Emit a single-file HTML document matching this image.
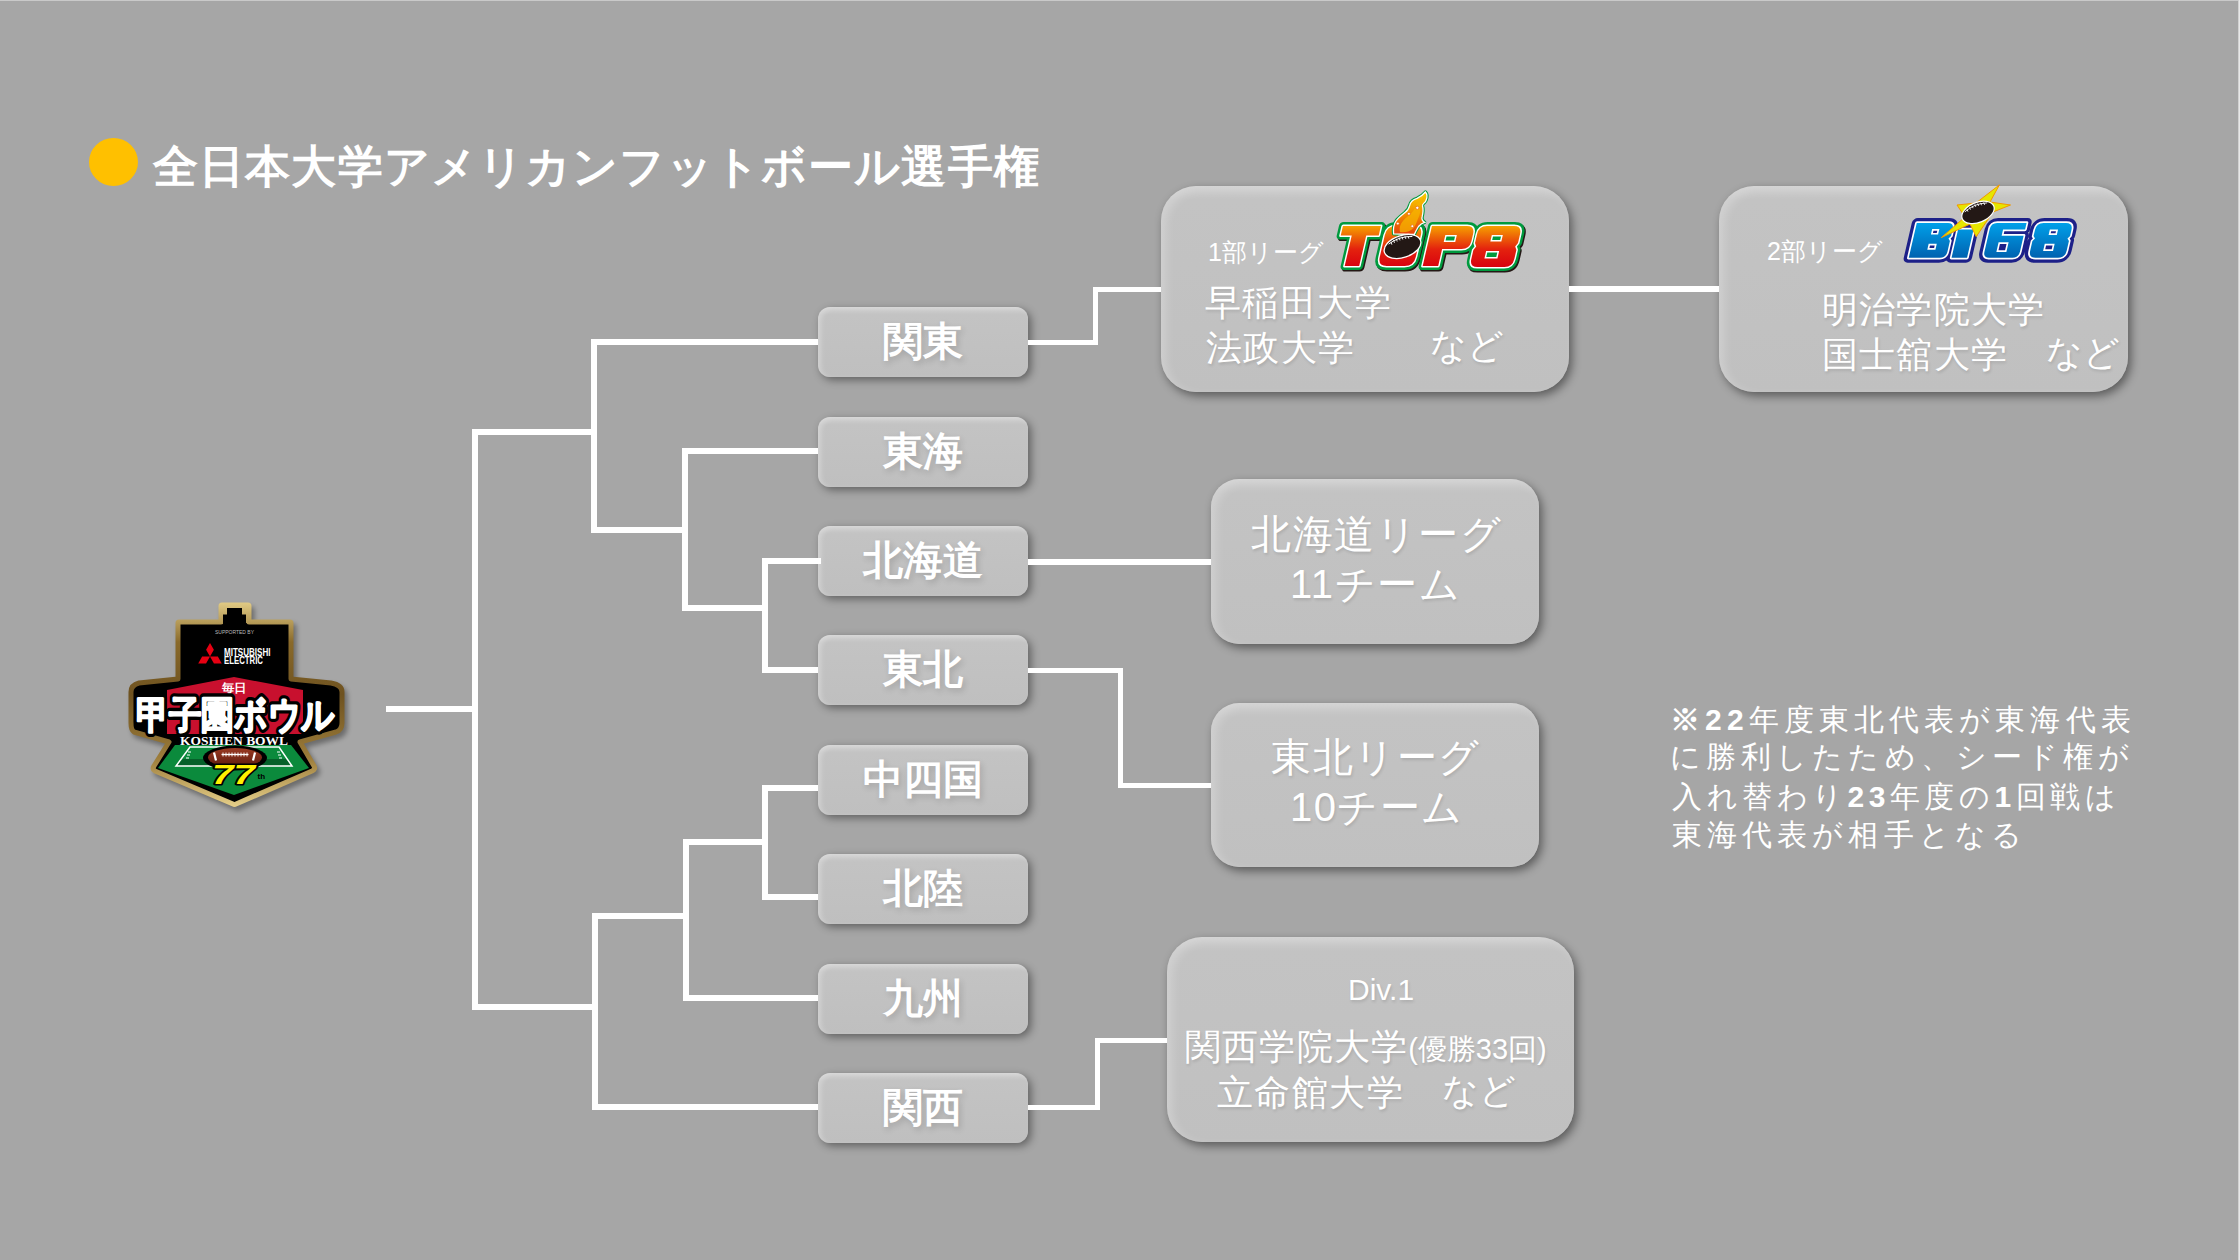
<!DOCTYPE html>
<html lang="ja">
<head>
<meta charset="utf-8">
<style>
html,body{margin:0;padding:0}
body{width:2240px;height:1260px;overflow:hidden;position:relative;background:#a6a6a6;font-family:"Liberation Sans",sans-serif;color:#fff}
.a{position:absolute}
.edge-t{left:0;top:0;width:2240px;height:1px;background:#c9c9c9}
.edge-r1{left:2238px;top:0;width:1px;height:1260px;background:#d2d2d2}
.edge-r2{left:2239px;top:0;width:1px;height:1260px;background:#e8e8e8}
.dot{left:89px;top:138px;width:49px;height:48px;border-radius:50%;background:#ffc000}
.title{left:153px;top:137px;font-size:45px;letter-spacing:1.15px;font-weight:bold;white-space:nowrap;line-height:60px}
.l{position:absolute;background:#fff;z-index:5}
.rb{position:absolute;left:818px;width:210px;height:70px;border-radius:12px;
  background:linear-gradient(180deg,#cdcdcd 0px,#c3c3c3 8px,#bfbfbf 100%);
  box-shadow:inset 3px 2px 5px rgba(255,255,255,.28),3px 3px 8px rgba(0,0,0,.42);
  z-index:2;text-align:center;font-weight:bold;font-size:40px;line-height:68px;
  text-shadow:2px 3px 6px rgba(0,0,0,.16)}
.bb{position:absolute;border-radius:35px;
  background:linear-gradient(180deg,#cbcbcb 0px,#c3c3c3 14px,#c0c0c0 100%);
  box-shadow:inset 5px 4px 10px rgba(255,255,255,.24),3px 4px 10px rgba(0,0,0,.45);
  z-index:2}
.t{position:absolute;white-space:nowrap;z-index:3;line-height:1.2}
.m{text-shadow:1px 2px 3px rgba(0,0,0,.12)}
.n{font-size:30px;letter-spacing:5.1px}
</style>
</head>
<body>
<div class="a edge-t"></div>
<div class="a edge-r1"></div>
<div class="a edge-r2"></div>

<div class="a dot"></div>
<div class="a title" id="ti">全日本大学アメリカンフットボール選手権</div>

<!-- bracket lines left -->
<div class="l" style="left:386px;top:706px;width:92px;height:6px"></div>
<div class="l" style="left:472px;top:429px;width:6px;height:581px"></div>
<div class="l" style="left:472px;top:429px;width:125px;height:6px"></div>
<div class="l" style="left:472px;top:1004px;width:126px;height:6px"></div>
<div class="l" style="left:591px;top:339px;width:6px;height:194px"></div>
<div class="l" style="left:591px;top:339px;width:227px;height:6px"></div>
<div class="l" style="left:591px;top:527px;width:97px;height:6px"></div>
<div class="l" style="left:682px;top:448px;width:6px;height:163px"></div>
<div class="l" style="left:682px;top:448px;width:136px;height:6px"></div>
<div class="l" style="left:682px;top:605px;width:86px;height:6px"></div>
<div class="l" style="left:762px;top:558px;width:6px;height:115px"></div>
<div class="l" style="left:762px;top:558px;width:59px;height:6px"></div>
<div class="l" style="left:762px;top:667px;width:56px;height:6px"></div>

<div class="l" style="left:592px;top:913px;width:6px;height:197px"></div>
<div class="l" style="left:592px;top:913px;width:97px;height:6px"></div>
<div class="l" style="left:592px;top:1104px;width:226px;height:6px"></div>
<div class="l" style="left:683px;top:839px;width:6px;height:162px"></div>
<div class="l" style="left:683px;top:839px;width:85px;height:6px"></div>
<div class="l" style="left:683px;top:995px;width:135px;height:6px"></div>
<div class="l" style="left:762px;top:785px;width:6px;height:115px"></div>
<div class="l" style="left:762px;top:785px;width:56px;height:6px"></div>
<div class="l" style="left:762px;top:894px;width:56px;height:6px"></div>

<!-- right connectors -->
<div class="l" style="left:1028px;top:340px;width:70px;height:5px"></div>
<div class="l" style="left:1093px;top:287px;width:5px;height:58px"></div>
<div class="l" style="left:1093px;top:287px;width:68px;height:5px"></div>
<div class="l" style="left:1569px;top:286px;width:150px;height:6px"></div>
<div class="l" style="left:1028px;top:559px;width:183px;height:6px"></div>
<div class="l" style="left:1028px;top:668px;width:95px;height:5px"></div>
<div class="l" style="left:1118px;top:668px;width:5px;height:120px"></div>
<div class="l" style="left:1118px;top:783px;width:93px;height:5px"></div>
<div class="l" style="left:1028px;top:1105px;width:72px;height:5px"></div>
<div class="l" style="left:1095px;top:1038px;width:5px;height:72px"></div>
<div class="l" style="left:1095px;top:1038px;width:72px;height:5px"></div>

<!-- region boxes -->
<div class="rb" style="top:307px" id="r0">関東</div>
<div class="rb" style="top:417px" id="r1">東海</div>
<div class="rb" style="top:526px" id="r2">北海道</div>
<div class="rb" style="top:635px" id="r3">東北</div>
<div class="rb" style="top:745px" id="r4">中四国</div>
<div class="rb" style="top:854px" id="r5">北陸</div>
<div class="rb" style="top:964px" id="r6">九州</div>
<div class="rb" style="top:1073px" id="r7">関西</div>

<!-- big boxes -->
<div class="bb" style="left:1161px;top:186px;width:408px;height:206px"></div>
<div class="bb" style="left:1719px;top:186px;width:409px;height:206px"></div>
<div class="bb" style="left:1211px;top:479px;width:328px;height:165px;border-radius:28px"></div>
<div class="bb" style="left:1211px;top:703px;width:328px;height:164px;border-radius:28px"></div>
<div class="bb" style="left:1167px;top:937px;width:407px;height:205px"></div>

<!-- big box texts -->
<div class="t s" id="t1" style="left:1208px;top:237px;font-size:25px">1部リーグ</div>
<div class="t m" id="t2" style="left:1205px;top:281px;font-size:36px;letter-spacing:1.4px">早稲田大学</div>
<div class="t m" id="t3" style="left:1206px;top:326px;font-size:36px;letter-spacing:1.4px">法政大学</div>
<div class="t m" id="t4" style="left:1430px;top:324px;font-size:36px">など</div>

<div class="t s" id="t5" style="left:1767px;top:236px;font-size:25px">2部リーグ</div>
<div class="t m" id="t6" style="left:1822px;top:288px;font-size:36px;letter-spacing:1.2px">明治学院大学</div>
<div class="t m" id="t7" style="left:1822px;top:333px;font-size:36px;letter-spacing:1.2px">国士舘大学</div>
<div class="t m" id="t8" style="left:2046px;top:331px;font-size:36px">など</div>

<div class="t m" id="t9" style="left:1251px;top:510px;font-size:40px;letter-spacing:1.5px">北海道リーグ</div>
<div class="t m" id="t10" style="left:1290px;top:560px;font-size:40px;letter-spacing:1.5px">11チーム</div>
<div class="t m" id="t11" style="left:1271px;top:733px;font-size:40px;letter-spacing:1.5px">東北リーグ</div>
<div class="t m" id="t12" style="left:1290px;top:783px;font-size:40px;letter-spacing:1.5px">10チーム</div>

<div class="t m" id="t13" style="left:1348px;top:972px;font-size:30px">Div.1</div>
<div class="t m" id="t14" style="left:1185px;top:1025px;font-size:36px"><span style="letter-spacing:1.2px">関西学院大学</span><span id="t14b" style="font-size:29px">(優勝33回)</span></div>
<div class="t m" id="t15" style="left:1217px;top:1071px;font-size:36px;letter-spacing:1.4px">立命館大学</div>
<div class="t m" id="t16" style="left:1442px;top:1069px;font-size:36px">など</div>

<!-- Koshien Bowl logo -->
<svg class="a" style="left:110px;top:590px;z-index:4" width="260" height="235" viewBox="110 590 260 235">
<defs>
<linearGradient id="gGold" x1="0" y1="600" x2="0" y2="810" gradientUnits="userSpaceOnUse">
<stop offset="0" stop-color="#e6d08a"/><stop offset="0.2" stop-color="#8a6a2a"/><stop offset="0.45" stop-color="#6e5220"/><stop offset="0.75" stop-color="#9c7c3a"/><stop offset="1" stop-color="#ead48e"/></linearGradient>
<linearGradient id="gBall" x1="0" y1="748" x2="0" y2="768" gradientUnits="userSpaceOnUse">
<stop offset="0" stop-color="#9a3a22"/><stop offset="1" stop-color="#5a1a0e"/></linearGradient>
<filter id="fSh" x="-10%" y="-10%" width="130%" height="130%"><feGaussianBlur stdDeviation="2.5"/></filter>
<path id="kOut" d="M221,606Q221,605 222,605L248,605Q249,605 249,606L249,622L290,622Q291,622 291,623L291,679L331,683Q342,685 342,692L342,723Q342,730 336,732L300,742L314,766Q316,769 312,771L236,804Q234.5,805 233,804L155,771Q152,769 154,766L169,742L134,732Q131,730 131,723L131,692Q131,685 139,683L178,679L178,623Q178,622 179,622L221,622Z"/>
</defs>
<use href="#kOut" fill="#000" opacity="0.35" transform="translate(3,4)" filter="url(#fSh)" stroke="#000" stroke-width="5"/>
<use href="#kOut" fill="#000" stroke="url(#gGold)" stroke-width="5" stroke-linejoin="round"/>
<!-- tower inner steps -->
<rect x="221" y="605" width="28" height="18" fill="url(#gGold)"/><path d="M227,608H242V614.5H246V626H223V614.5H227Z" fill="#000"/>
<!-- red roof -->
<path d="M167,690L234,677L303,690L303,734L167,734Z" fill="#c8102e"/>
<!-- green field -->
<path d="M175,745L291,745L309,768L234,795L158,768Z" fill="#0b8a3c"/>
<path d="M183,759L286,759L292,766L176,766Z" fill="#06612a"/>
<path d="M190,747L279,747L292,766L176,766Z" fill="none" stroke="#fff" stroke-width="1.5"/>
<path d="M188,752h3M187,755h3M186,758h3M280,752h-3M281,755h-3M282,758h-3" stroke="#fff" stroke-width="1"/>
<!-- black band behind KOSHIEN BOWL -->
<path d="M172,734H298L293,745H177Z" fill="#000"/>
<!-- ball -->
<ellipse cx="235" cy="758" rx="32" ry="12.5" fill="#000"/>
<ellipse cx="235" cy="757.5" rx="27" ry="9.5" fill="url(#gBall)"/>
<path d="M214,752.5l2,8M255,752.5l-2,8" stroke="#fff" stroke-width="2.2"/>
<path d="M221.5,754.5H248.5" stroke="#fff" stroke-width="1.3"/>
<path d="M223,752.5v4M226,752.5v4M229,752.5v4M232,752.5v4M235,752.5v4M238,752.5v4M241,752.5v4M244,752.5v4M247,752.5v4" stroke="#fff" stroke-width="0.9"/>
<!-- 77th -->
<text x="212" y="783.5" font-family="Liberation Sans" font-weight="bold" font-style="italic" font-size="27" textLength="43" lengthAdjust="spacingAndGlyphs" fill="#fff100" stroke="#000" stroke-width="3" paint-order="stroke" stroke-linejoin="round">77</text>
<text x="257.5" y="778.5" font-family="Liberation Sans" font-weight="bold" font-size="8" fill="#000">th</text>

<!-- Mitsubishi -->
<text x="215" y="634" font-family="Liberation Sans" font-size="4.6" textLength="39" lengthAdjust="spacingAndGlyphs" fill="#bbb">SUPPORTED BY</text>
<path d="M210,656.6L213.9,649.8L210,643L206.1,649.8Z M210,656.6L206.05,663.4L198.2,663.4L202.15,656.6Z M210,656.6L217.85,656.6L221.8,663.4L213.95,663.4Z" fill="#e60012"/>
<text x="224" y="656.3" font-family="Liberation Sans" font-weight="bold" font-size="10.5" textLength="46.5" lengthAdjust="spacingAndGlyphs" fill="#fff">MITSUBISHI</text>
<text x="224" y="664.3" font-family="Liberation Sans" font-weight="bold" font-size="10.5" textLength="39" lengthAdjust="spacingAndGlyphs" fill="#fff">ELECTRIC</text>
<!-- 毎日 -->
<text x="221.5" y="691.5" font-family="Liberation Sans" font-weight="bold" font-size="11.5" textLength="25" lengthAdjust="spacingAndGlyphs" fill="#fff">毎日</text>
<!-- 甲子園ボウル -->
<text x="136" y="727.5" font-family="Liberation Sans" font-weight="bold" font-size="38" textLength="199" lengthAdjust="spacingAndGlyphs" fill="#fff" stroke="#000" stroke-width="8.5" paint-order="stroke" stroke-linejoin="round">甲子園ボウル</text>
<text x="136" y="727.5" font-family="Liberation Sans" font-weight="bold" font-size="38" textLength="199" lengthAdjust="spacingAndGlyphs" fill="#fff" stroke="#fff" stroke-width="1.9" stroke-linejoin="round">甲子園ボウル</text>
<!-- KOSHIEN BOWL -->
<text x="180" y="744.5" font-family="Liberation Serif" font-weight="bold" font-size="12" textLength="108" lengthAdjust="spacingAndGlyphs" fill="#fff">KOSHIEN BOWL</text>
</svg>

<!-- TOP8 logo -->
<svg class="a" style="left:1330px;top:188px;z-index:4" width="200" height="88" viewBox="0 0 200 88">
<defs>
<linearGradient id="gTop" x1="0" y1="38" x2="0" y2="80" gradientUnits="userSpaceOnUse">
<stop offset="0" stop-color="#f6a000"/><stop offset="0.55" stop-color="#e4220e"/><stop offset="1" stop-color="#d7000f"/></linearGradient>
<linearGradient id="gFl" x1="0" y1="46" x2="0" y2="4" gradientUnits="userSpaceOnUse">
<stop offset="0" stop-color="#e5400c"/><stop offset="0.45" stop-color="#f08a00"/><stop offset="1" stop-color="#f9d000"/></linearGradient>
<path id="tp8" fill-rule="evenodd" d="M3,38H41V47.5H28.5V78H14V47.5H3Z M56,38H74Q83,38 83,47V69Q83,78 74,78H56Q47,78 47,69V47Q47,38 56,38Z M92,38H127Q135,38 135,46V53Q135,61 127,61H107.5V78H92Z M107.5,47V54H119V47Z M147,38H174Q182,38 182,46V55L180,58.5L182,62V71Q182,79 174,79H147Q139,79 139,71V62L141,58.5L139,55V46Q139,38 147,38Z M154,47V53.6H165V47Z M152,63V70.5H165V63Z"/>
</defs>
<g transform="translate(18.7,0) skewX(-13)">
<use href="#tp8" fill="#231815" stroke="#231815" stroke-width="8" stroke-linejoin="round" transform="translate(1.6,1.6)"/>
<use href="#tp8" fill="#009a3e" stroke="#009a3e" stroke-width="8" stroke-linejoin="round"/>
<use href="#tp8" fill="#fff" stroke="#fff" stroke-width="3" stroke-linejoin="round"/>
<use href="#tp8" fill="url(#gTop)"/>
</g>
<defs><path id="fl" d="M63.6,45.8C63,40 64,36 66,33C68,30 72,27 75,24.5C78,22.5 79,20 79.7,17.3C80.5,14 83,11.5 87,10.3C90,9 93,7 95.4,4C97.5,6 97,10 96,12.4C95,15 92,16 92.5,18C93.5,21 93,25 92.1,28.9C91.5,31 91.5,32.5 94.6,34.3C92,35 90,36.5 88.5,38.5C87,41 85.5,43.5 84.3,46.5Z"/></defs>
<use href="#fl" fill="none" stroke="#009a3e" stroke-width="3.4" stroke-linejoin="round"/>
<use href="#fl" fill="url(#gFl)" stroke="#fff" stroke-width="1.3"/>
<path d="M70,44C68.5,38 72,33 77,29C82,25.5 85,21 87,15.5C90,13.5 92.5,11 94,8.5C94,13 90,16 89.5,19C91,22.5 90,26 88.5,29.5C87,33 86.5,36 83.5,40C80.5,43.5 75,45 70,44Z" fill="#f6b400" opacity="0.75"/>
<g fill="#fff" stroke="#e8620c" stroke-width="0.7"><circle cx="87.3" cy="19.8" r="1.6"/><circle cx="78.9" cy="25.8" r="1.4"/><circle cx="67.8" cy="35.6" r="1.4"/><circle cx="82.3" cy="38.2" r="1.4"/></g>
<g transform="rotate(-18 72.5 58.5)">
<ellipse cx="72.5" cy="58.5" rx="19" ry="11" fill="#231815" stroke="#fff" stroke-width="1.3"/>
<path d="M60,52 Q72,47.5 85,52" fill="none" stroke="#fff" stroke-width="0.9"/>
<path d="M63,50.5v3M66,49.6v3M69,49.1v3M72,48.9v3M75,49v3M78,49.4v3M81,50.1v3" stroke="#fff" stroke-width="0.8"/>
</g>
</svg>

<!-- BIG8 logo -->
<svg class="a" style="left:1890px;top:180px;z-index:4" width="200" height="90" viewBox="0 0 200 90">
<defs>
<linearGradient id="gBig" x1="0" y1="43" x2="0" y2="78" gradientUnits="userSpaceOnUse">
<stop offset="0" stop-color="#00a0e9"/><stop offset="1" stop-color="#0062b0"/></linearGradient>
<path id="bg8" fill-rule="evenodd" d="M18.7,43H50Q56,43 56,49V56L54,58.5L56,61V71.7Q56,77.7 50,77.7H18.7Z M35.5,49V54.6H42.7V49Z M35.4,63.8V69.7H43.5V63.8Z M61.5,49.5H77V77.7H61.5Z M99,43H128.5V49.5H106.5V55.8H128.5V71.7Q128.5,77.7 122.5,77.7H99Q93,77.7 93,71.7V49Q93,43 99,43Z M105,62.3V72H115V62.3Z M145.5,43H168Q175,43 175,50V56L173,58.5L175,61V70.7Q175,77.7 168,77.7H145.5Q138.5,77.7 138.5,70.7V61L140.5,58.5L138.5,56V50Q138.5,43 145.5,43Z M153.3,49.5V55H161.5V49.5Z M151.5,63.8V71H161.4V63.8Z"/>
</defs>
<g transform="translate(18,0) skewX(-13)">
<use href="#bg8" fill="#1d2088" stroke="#1d2088" stroke-width="10" stroke-linejoin="round"/>
<use href="#bg8" fill="#fff" stroke="#fff" stroke-width="3.4" stroke-linejoin="round"/>
<use href="#bg8" fill="url(#gBig)"/>
</g>
<polygon points="109.4,4.9 100,22 120.5,25 103,32 86.2,56.7 80,44 51.3,57.6 75,37 67,25 86,23" fill="#e6e600" stroke="#f39800" stroke-width="1" stroke-linejoin="miter"/>
<g transform="rotate(-22 88 32.4)">
<ellipse cx="88" cy="32.4" rx="17" ry="10" fill="#231815" stroke="#fff" stroke-width="1.2"/>
<path d="M76,27 Q88,22.5 100,27" fill="none" stroke="#fff" stroke-width="0.8"/>
<path d="M79,25.3v2.6M82,24.5v2.6M85,24v2.6M88,23.8v2.6M91,24v2.6M94,24.5v2.6M97,25.3v2.6" stroke="#fff" stroke-width="0.8"/>
</g>
</svg>

<!-- note -->
<div class="t n" id="n1" style="left:1670px;top:702px"><b>※22</b>年度東北代表が東海代表</div>
<div class="t n" id="n2" style="left:1670px;top:739px">に勝利したため、シード権が</div>
<div class="t n" id="n3" style="left:1672px;top:779px;letter-spacing:4.5px">入れ替わり<b>23</b>年度の<b>1</b>回戦は</div>
<div class="t n" id="n4" style="left:1672px;top:817px">東海代表が相手となる</div>

</body>
</html>
